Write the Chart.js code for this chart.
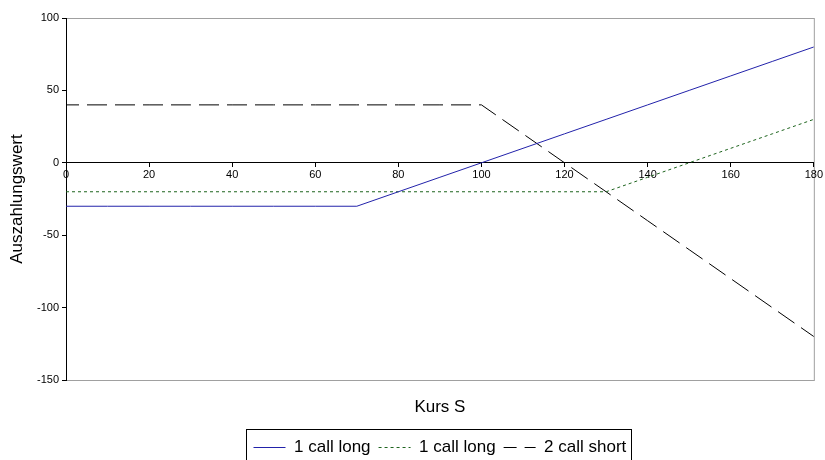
<!DOCTYPE html>
<html>
<head>
<meta charset="utf-8">
<script src="https://cdn.jsdelivr.net/npm/chart.js@4/dist/chart.umd.min.js"></script>
<style>
  html, body { margin: 0; padding: 0; background: #fff; }
  #wrap { width: 825px; height: 460px; position: relative; }
</style>
</head>
<body>
<div id="wrap"><canvas id="myChart"></canvas></div>
<script>
// Kurs S (x values)
var kurs = [0, 10, 20, 30, 40, 50, 60, 70, 80, 90, 100, 110, 120, 130, 140, 150, 160, 170, 180];

// payoff series
var callLong1 = [-30, -30, -30, -30, -30, -30, -30, -30, -20, -10, 0, 10, 20, 30, 40, 50, 60, 70, 80];
var callLong2 = [-20, -20, -20, -20, -20, -20, -20, -20, -20, -20, -20, -20, -20, -20, -10, 0, 10, 20, 30];
var callShort2 = [40, 40, 40, 40, 40, 40, 40, 40, 40, 40, 40, 20, 0, -20, -40, -60, -80, -100, -120];

var seriesNames = ['1 call long', '1 call long', '2 call short'];
var seriesColors = ['#2222aa', '#1e641e', '#000000'];
var xTicks = [0, 20, 40, 60, 80, 100, 120, 140, 160, 180];
var yTicks = [-150, -100, -50, 0, 50, 100];

function toPoints(ys) {
  var pts = [];
  for (var i = 0; i < kurs.length; i++) pts.push({ x: kurs[i], y: ys[i] });
  return pts;
}

// gray frame round the plot area, drawn before the axes
var plotFrame = {
  id: 'plotFrame',
  afterLayout: function(chart) {
    // whole pixels so the thin legend lines stay sharp
    var lg = chart.legend;
    var dy = Math.round(lg.top) - lg.top;
    lg.top += dy; lg.bottom += dy;
  },
  beforeDraw: function(chart) {
    var a = chart.chartArea, ctx = chart.ctx;
    ctx.save();
    ctx.strokeStyle = '#a0a0a0';
    ctx.lineWidth = 1;
    ctx.strokeRect(a.left + 0.5, a.top + 0.5, a.right - a.left, a.bottom - a.top);
    ctx.restore();
  }
};

// black box round the legend (runs off the bottom edge like the original)
var legendBox = {
  id: 'legendBox',
  afterDraw: function(chart) {
    var boxes = chart.legend.legendHitBoxes;
    if (!boxes || !boxes.length) return;
    var l = boxes[0].left, r = boxes[boxes.length - 1].left + boxes[boxes.length - 1].width;
    var top = chart.legend.top;
    var ctx = chart.ctx;
    ctx.save();
    ctx.strokeStyle = '#000';
    ctx.lineWidth = 1;
    ctx.strokeRect(Math.round(l - 8) + 0.5, Math.round(top - 2) + 0.5, Math.round(r - l + 12), 40);
    ctx.restore();
  }
};

var tickFont = { family: 'Liberation Sans, Arial', size: 11 };
var bigFont = { family: 'Liberation Sans, Arial', size: 17 };

var myChart = new Chart(document.getElementById('myChart'), {
  type: 'line',
  data: {
    datasets: [{
      label: seriesNames[0],
      data: toPoints(callLong1),
      borderColor: seriesColors[0],
      pointBorderColor: seriesColors[0],
      borderWidth: 1,
      pointRadius: 0,
      pointStyle: 'line'
    }, {
      label: seriesNames[1],
      data: toPoints(callLong2),
      borderColor: seriesColors[1],
      pointBorderColor: seriesColors[1],
      borderWidth: 1,
      borderDash: [3, 3],
      pointRadius: 0,
      pointStyle: 'line'
    }, {
      label: seriesNames[2],
      data: toPoints(callShort2),
      borderColor: seriesColors[2],
      pointBorderColor: seriesColors[2],
      borderWidth: 1,
      borderDash: [20, 8],
      borderDashOffset: 7,
      pointRadius: 0,
      pointStyle: 'line'
    }]
  },
  options: {
    responsive: true,
    maintainAspectRatio: false,
    animation: false,
    layout: { padding: { top: 18, right: 10, left: 0, bottom: -6 } },
    plugins: {
      tooltip: { enabled: false },
      legend: {
        position: 'bottom',
        fullSize: false,
        labels: {
          usePointStyle: true,
          pointStyleWidth: 32,
          boxHeight: 10,
          padding: 8,
          color: '#000',
          font: bigFont,
          generateLabels: function(chart) {
            var items = Chart.defaults.plugins.legend.labels.generateLabels(chart);
            items.forEach(function(it) {
              var ds = chart.data.datasets[it.datasetIndex];
              it.lineDash = ds.borderDash || [];
              it.lineDashOffset = ds.borderDashOffset || 0;
              it.strokeStyle = seriesColors[it.datasetIndex];
              it.lineWidth = 1;
            });
            return items;
          }
        }
      }
    },
    scales: {
      x: {
        type: 'linear',
        position: 'bottom',
        min: 0,
        max: 180,
        grid: { display: false, drawTicks: false },
        border: { display: false },
        ticks: { display: false },
        title: { display: true, text: 'Kurs S', color: '#000', font: bigFont, padding: { top: 4, bottom: 13 } },
        afterFit: function(scale) { scale.height = 51; }
      },
      x2: {
        type: 'linear',
        position: { y: 0 },
        min: 0,
        max: 180,
        afterBuildTicks: function(scale) {
          scale.ticks = xTicks.map(function(v) { return { value: v }; });
        },
        grid: { drawOnChartArea: false, tickLength: 4, color: '#000' },
        border: { color: '#000' },
        ticks: { color: '#000', font: tickFont, padding: 2, maxRotation: 0 }
      },
      y: {
        min: -150,
        max: 100,
        afterBuildTicks: function(scale) {
          scale.ticks = yTicks.map(function(v) { return { value: v }; });
        },
        grid: { drawOnChartArea: false, tickLength: 4, color: '#000' },
        border: { color: '#000' },
        ticks: { color: '#000', font: tickFont, padding: 3 },
        title: { display: true, text: 'Auszahlungswert', color: '#000', font: bigFont, padding: { top: 7, bottom: 4 } },
        afterFit: function(scale) { scale.width = 66; }
      }
    }
  },
  plugins: [plotFrame, legendBox]
});
</script>
</body>
</html>
